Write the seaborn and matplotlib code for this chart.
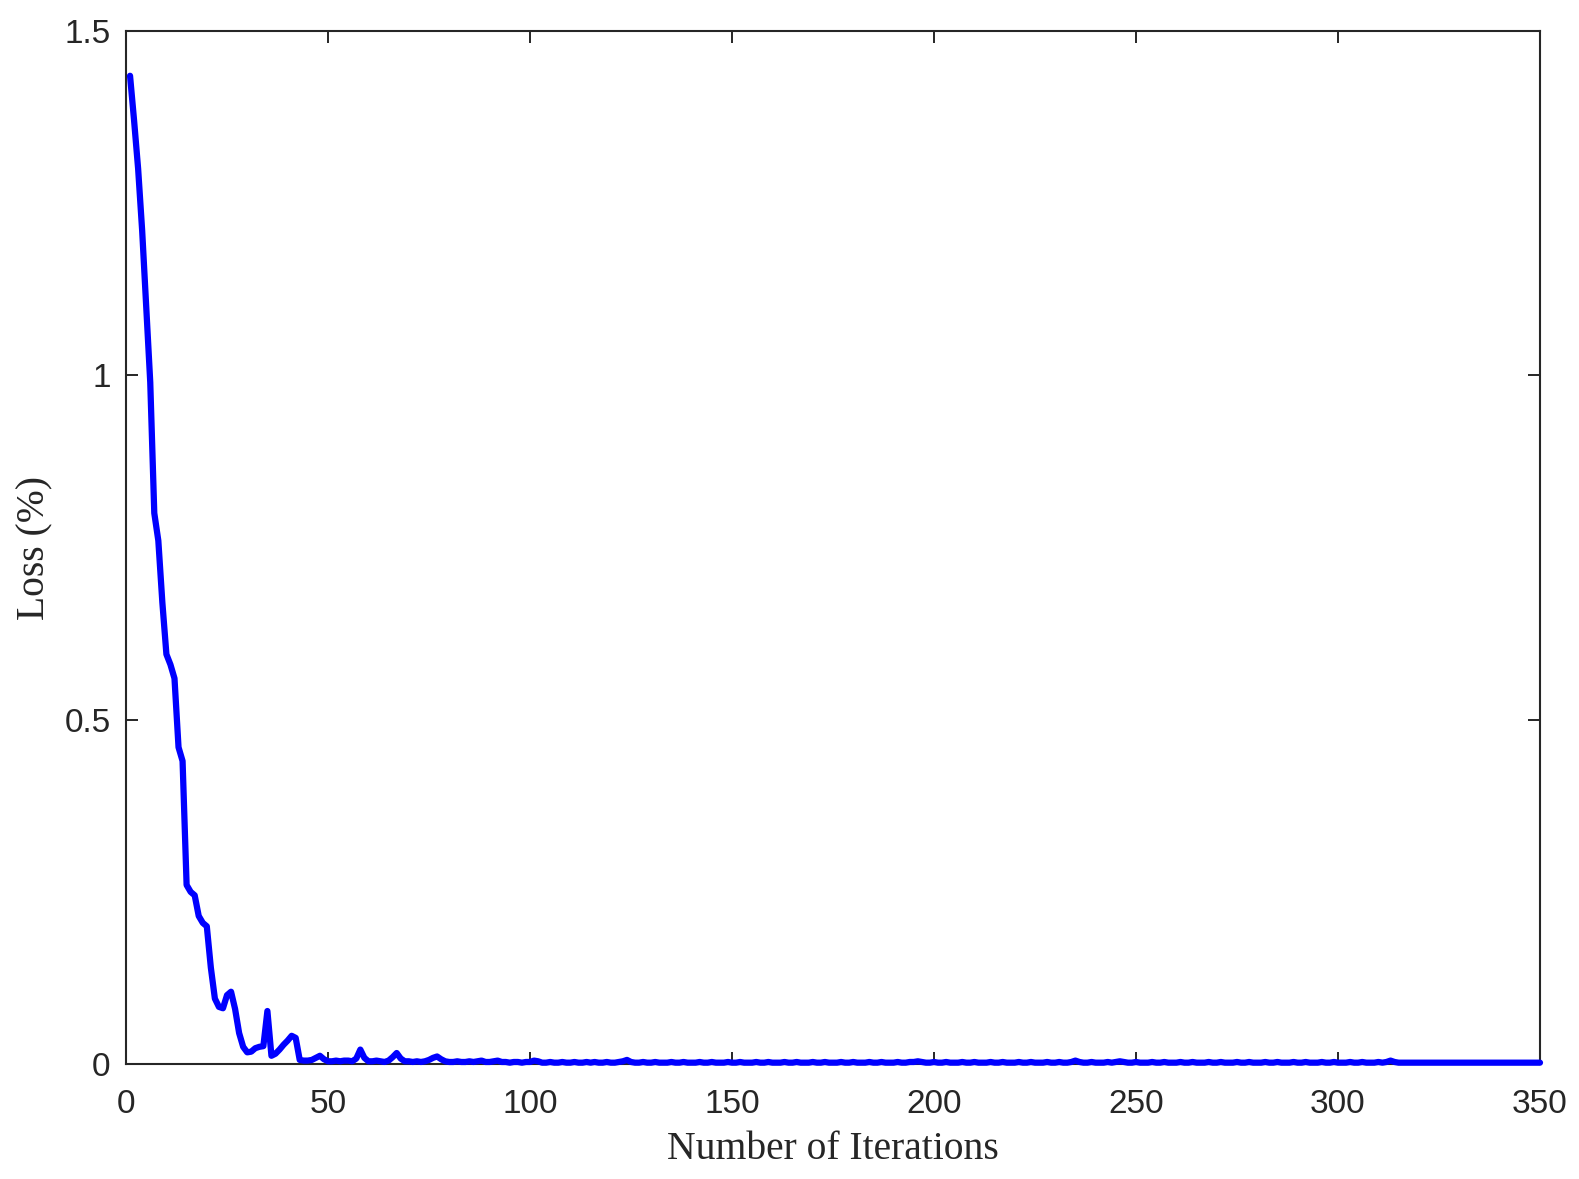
import numpy as np
import pandas as pd
import seaborn as sns
import matplotlib
matplotlib.use("Agg")
import matplotlib.pyplot as plt

# ---- data ----
loss_fast = [1.435, 1.37, 1.30, 1.21, 1.10, 0.99, 0.80, 0.76, 0.67, 0.595,
             0.58, 0.56, 0.46, 0.44, 0.26, 0.25, 0.245, 0.215, 0.205, 0.20,
             0.14, 0.095, 0.083, 0.081, 0.10, 0.105, 0.08, 0.045, 0.025, 0.017,
             0.018, 0.023, 0.025, 0.026, 0.077, 0.012, 0.015, 0.021, 0.028, 0.034,
             0.041, 0.038]
loss_settle = [0.006, 0.005, 0.005, 0.006, 0.009, 0.012, 0.007, 0.004,
               0.004, 0.005, 0.004, 0.005, 0.005, 0.004, 0.008, 0.021, 0.009, 0.004,
               0.004, 0.005, 0.004, 0.003, 0.005, 0.010, 0.016, 0.008, 0.004, 0.004,
               0.003, 0.004, 0.003, 0.004, 0.006, 0.009, 0.011, 0.007, 0.004, 0.003,
               0.003, 0.004, 0.003, 0.003, 0.004, 0.003, 0.004, 0.005, 0.003, 0.003,
               0.004, 0.005, 0.003, 0.003, 0.002, 0.003, 0.003, 0.002, 0.003, 0.003]
loss_tail = [0.005, 0.004, 0.002, 0.002, 0.003, 0.002, 0.002, 0.003, 0.002, 0.002,
             0.003, 0.002, 0.002, 0.003, 0.002, 0.003, 0.002, 0.002, 0.003, 0.002,
             0.002, 0.003, 0.004, 0.006, 0.003, 0.002, 0.002, 0.003, 0.002, 0.002,
             0.003, 0.002, 0.002, 0.002, 0.003, 0.002, 0.002, 0.003, 0.002, 0.002,
             0.002, 0.003, 0.002, 0.002, 0.003, 0.002, 0.002, 0.002, 0.003, 0.002,
             0.002, 0.003, 0.002, 0.002, 0.002, 0.003, 0.002, 0.002, 0.003, 0.002,
             0.002, 0.002, 0.003, 0.002, 0.002, 0.003, 0.002, 0.002, 0.002, 0.003,
             0.002, 0.002, 0.003, 0.002, 0.002, 0.002, 0.003, 0.002, 0.002, 0.003,
             0.002, 0.002, 0.002, 0.003, 0.002, 0.002, 0.003, 0.002, 0.002, 0.002,
             0.003, 0.002, 0.002, 0.003, 0.003, 0.004, 0.003, 0.002, 0.002, 0.003,
             0.002, 0.002, 0.003, 0.002, 0.002, 0.002, 0.003, 0.002, 0.002, 0.003,
             0.002, 0.002, 0.002, 0.003, 0.002, 0.002, 0.003, 0.002, 0.002, 0.002,
             0.003, 0.002, 0.002, 0.003, 0.002, 0.002, 0.002, 0.003, 0.002, 0.002,
             0.003, 0.002, 0.002, 0.003, 0.005, 0.003, 0.002, 0.002, 0.003, 0.002,
             0.002, 0.002, 0.003, 0.002, 0.003, 0.004, 0.003, 0.002, 0.002, 0.003,
             0.002, 0.002, 0.002, 0.003, 0.002, 0.002, 0.003, 0.002, 0.002, 0.002,
             0.003, 0.002, 0.002, 0.003, 0.002, 0.002, 0.002, 0.003, 0.002, 0.002,
             0.003, 0.002, 0.002, 0.002, 0.003, 0.002, 0.002, 0.003, 0.002, 0.002,
             0.002, 0.003, 0.002, 0.002, 0.003, 0.002, 0.002, 0.002, 0.003, 0.002,
             0.002, 0.003, 0.002, 0.002, 0.002, 0.003, 0.002, 0.002, 0.003, 0.002,
             0.002, 0.002, 0.003, 0.002, 0.002, 0.003, 0.002, 0.002, 0.002, 0.003,
             0.002, 0.003, 0.005, 0.003, 0.002, 0.002, 0.002, 0.002, 0.002, 0.002,
             0.002, 0.002, 0.002, 0.002, 0.002, 0.002, 0.002, 0.002, 0.002, 0.002,
             0.002, 0.002, 0.002, 0.002, 0.002, 0.002, 0.002, 0.002, 0.002, 0.002,
             0.002, 0.002, 0.002, 0.002, 0.002, 0.002, 0.002, 0.002, 0.002, 0.002]
loss = loss_fast + loss_settle + loss_tail
iterations = list(range(1, len(loss) + 1))

x_ticks = [0, 50, 100, 150, 200, 250, 300, 350]
y_ticks = [0, 0.5, 1, 1.5]
y_tick_labels = ["0", "0.5", "1", "1.5"]

df = pd.DataFrame({"Iteration": iterations, "Loss": loss})

sns.set_theme(style="white")
plt.rcParams["font.family"] = ["Liberation Sans", "DejaVu Sans"]

fig = plt.figure(figsize=(15.79, 11.79), dpi=100)
ax = fig.add_axes([0.0798, 0.0975, 0.8955, 0.8762])

sns.lineplot(data=df, x="Iteration", y="Loss", ax=ax, color="#0000FF",
             linewidth=4.5, clip_on=False, zorder=3)

ax.set_xlim(0, 350)
ax.set_ylim(0, 1.5)
ax.set_xticks(x_ticks)
ax.set_xticklabels([str(t) for t in x_ticks])
ax.set_yticks(y_ticks)
ax.set_yticklabels(y_tick_labels)

dark = "#262626"
for s in ax.spines.values():
    s.set_visible(True)
    s.set_color(dark)
    s.set_linewidth(1.5)

ax.tick_params(axis="both", which="major", direction="in", length=8.6, width=1.4,
               color=dark, labelcolor=dark, labelsize=24,
               top=True, right=True, bottom=True, left=True)
ax.tick_params(axis="x", pad=18)
ax.tick_params(axis="y", pad=11)

serif = ["Liberation Serif", "DejaVu Serif"]
ax.set_xlabel("Number of Iterations", family=serif, fontsize=28.5, color=dark, va="center")
ax.set_ylabel("Loss (%)", family=serif, fontsize=28.5, color=dark, va="center")
ax.xaxis.set_label_coords(0.5, -0.0823)
ax.yaxis.set_label_coords(-0.0645, 0.5)

fig.savefig("out.png", dpi=100, facecolor="white")
